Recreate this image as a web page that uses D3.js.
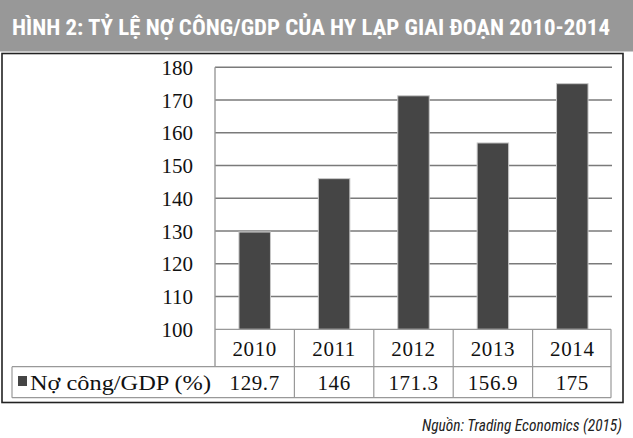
<!DOCTYPE html>
<html><head><meta charset="utf-8">
<script src="https://cdn.jsdelivr.net/npm/d3@7"></script>
<style>
html,body{margin:0;padding:0;background:#fff;}
svg{display:block;}
</style></head>
<body>
<svg id="c" width="633" height="438"></svg>
<script>
const title = "HÌNH 2: TỶ LỆ NỢ CÔNG/GDP CỦA HY LẠP GIAI ĐOẠN 2010-2014";
const source = "Nguồn: Trading Economics (2015)";
const seriesName = "Nợ công/GDP (%)";
const categories = ["2010", "2011", "2012", "2013", "2014"];
const values = [129.7, 146, 171.3, 156.9, 175];
const valueLabels = ["129.7", "146", "171.3", "156.9", "175"];
const yTicks = [100, 110, 120, 130, 140, 150, 160, 170, 180];

const svg = d3.select("#c");
const serif = "'Liberation Serif','Times New Roman',serif";
const cond = "'Liberation Sans Narrow','Roboto Condensed','Open Sans',sans-serif";

// header band
svg.append("rect").attr("x",0).attr("y",0).attr("width",633).attr("height",51.5).attr("fill","#989898");
svg.append("text").attr("x",12).attr("y",34.5)
  .attr("font-family",cond).attr("font-weight","bold").attr("font-size",22)
  .attr("fill","#fff").attr("textLength",598).attr("lengthAdjust","spacingAndGlyphs")
  .text(title);

// outer box
svg.append("rect").attr("x",2).attr("y",53.5).attr("width",621).attr("height",349)
  .attr("fill","#fff").attr("stroke","#222").attr("stroke-width",1.6);

const x = d3.scaleBand().domain(categories).range([215, 612]).paddingInner(0).paddingOuter(0);
const y = d3.scaleLinear().domain([100,180]).range([329.3, 67.3]);

// gridlines
const g = svg.append("g");
g.selectAll("line.grid").data(yTicks.filter(t=>t>100)).join("line")
  .attr("x1",215).attr("x2",612).attr("y1",d=>y(d)).attr("y2",d=>y(d))
  .attr("stroke","#7a7a7a").attr("stroke-width",1.4);

// y labels
const yAxis = d3.axisLeft(y).tickValues(yTicks).tickSize(0).tickPadding(22);
const ya = svg.append("g").attr("transform","translate(215,0)").call(yAxis);
ya.select(".domain").remove();
ya.selectAll("text").attr("font-family",serif).attr("font-size",21).attr("fill","#111")
  .attr("dy","0.34em");

// bars
const bw = 31.5;
svg.selectAll("rect.bar").data(values).join("rect").attr("class","bar")
  .attr("x",(d,i)=>x(categories[i]) + x.bandwidth()/2 - bw/2)
  .attr("width",bw)
  .attr("y",d=>y(d)).attr("height",d=>y(100)-y(d))
  .attr("fill","#454545").attr("stroke","#c8c8c8").attr("stroke-width",1);

// left axis line
svg.append("line").attr("x1",215).attr("x2",215).attr("y1",67.3).attr("y2",366.7)
  .attr("stroke","#999").attr("stroke-width",1.4);

// table
const tc = "#999";
const rowTop = 329.3, rowMid = 366.7, rowBot = 397.7;
const t = svg.append("g");
t.append("line").attr("x1",215).attr("x2",611).attr("y1",rowTop).attr("y2",rowTop).attr("stroke",tc).attr("stroke-width",1.2);
t.append("line").attr("x1",12).attr("x2",611).attr("y1",rowMid).attr("y2",rowMid).attr("stroke",tc).attr("stroke-width",1.2);
t.append("line").attr("x1",12).attr("x2",611).attr("y1",rowBot).attr("y2",rowBot).attr("stroke",tc).attr("stroke-width",1.2);
t.append("line").attr("x1",12).attr("x2",12).attr("y1",rowMid).attr("y2",rowBot).attr("stroke",tc).attr("stroke-width",1.2);
const vx = categories.map(c=>x(c)).concat([x(categories[categories.length-1])+x.bandwidth()]);
t.selectAll("line.v").data(vx.slice(1)).join("line")
  .attr("x1",d=>Math.min(d,611)).attr("x2",d=>Math.min(d,611)).attr("y1",rowTop).attr("y2",rowBot)
  .attr("stroke",tc).attr("stroke-width",1.2);

t.selectAll("text.yr").data(categories).join("text")
  .attr("x",d=>x(d)+x.bandwidth()/2).attr("y",356)
  .attr("text-anchor","middle").attr("font-family",serif).attr("font-size",21).attr("fill","#111")
  .attr("letter-spacing",0.6)
  .text(d=>d);
t.selectAll("text.val").data(valueLabels).join("text")
  .attr("x",(d,i)=>x(categories[i])+x.bandwidth()/2).attr("y",389.5)
  .attr("text-anchor","middle").attr("font-family",serif).attr("font-size",21).attr("fill","#111")
  .attr("letter-spacing",0.6)
  .text(d=>d);

// legend
t.append("rect").attr("x",18).attr("y",376).attr("width",9).attr("height",10).attr("fill","#454545");
t.append("text").attr("x",30).attr("y",389.5).attr("font-family",serif).attr("font-size",21).attr("fill","#111")
  .attr("textLength",181).attr("lengthAdjust","spacingAndGlyphs")
  .text(seriesName);

// source
svg.append("text").attr("x",622).attr("y",431).attr("text-anchor","end")
  .attr("font-family",cond).attr("font-style","italic").attr("font-size",16).attr("fill","#222")
  .attr("textLength",200).attr("lengthAdjust","spacingAndGlyphs")
  .text(source);
</script>
</body></html>
